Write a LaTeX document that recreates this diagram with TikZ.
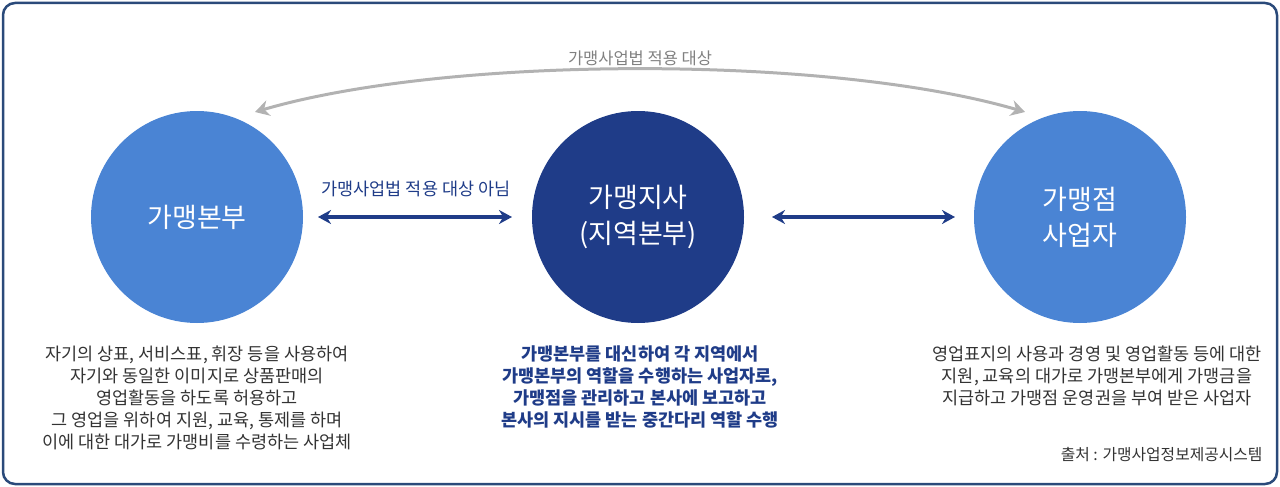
\documentclass[tikz,border=0pt]{standalone}
\usepackage{fontspec}
\setmainfont{Noto Sans CJK KR}
\usetikzlibrary{arrows.meta}
\definecolor{navy}{HTML}{1F3C88}
\definecolor{lblue}{HTML}{4A84D4}
\definecolor{frame}{HTML}{2A4A7A}
\definecolor{txt}{HTML}{333333}
\begin{document}
\begin{tikzpicture}[x=1pt,y=-1pt,
  circ/.style={circle,minimum size=212pt,inner sep=0pt,text=white,font=\fontsize{27}{36}\selectfont,align=center},
  desc/.style={align=center,font=\fontsize{17.5}{22}\selectfont,text=txt},
  dbl/.style={{Stealth[length=13pt,width=14pt]}-{Stealth[length=13pt,width=14pt]},line width=3.2pt,draw=navy}]
\useasboundingbox (0,0) rectangle (1280,487);
\draw[frame,line width=2.5pt,rounded corners=12pt] (3,3) rectangle (1277,484);
\node[circ,fill=lblue] (hq) at (197,217) {가맹본부};
\node[circ,fill=navy] (br) at (638,217) {가맹지사\\(지역본부)};
\node[circ,fill=lblue] (st) at (1080,217) {가맹점\\사업자};
\coordinate (al) at (255,112);
\coordinate (ar) at (1025,112);
\draw[{Stealth[length=14pt,width=16pt]}-{Stealth[length=14pt,width=16pt]},line width=3pt,draw=gray!60] (al) .. controls (450,55) and (830,55) .. (ar);
\node[text=gray,font=\fontsize{16.5}{20}\selectfont] (tl) at (640,58) {가맹사업법 적용 대상};
\coordinate (m1) at (318,217); \coordinate (m2) at (512,217);
\coordinate (n1) at (772,217); \coordinate (n2) at (955,217);
\draw[dbl] (m1) -- (m2);
\draw[dbl] (n1) -- (n2);
\node[text=navy,font=\fontsize{17.5}{20}\selectfont] (ml) at (416,189) {가맹사업법 적용 대상 아님};
\node[desc,anchor=north] (d1) at (197,342) {자기의 상표, 서비스표, 휘장 등을 사용하여\\자기와 동일한 이미지로 상품판매의\\영업활동을 하도록 허용하고\\그 영업을 위하여 지원, 교육, 통제를 하며\\이에 대한 대가로 가맹비를 수령하는 사업체};
\node[desc,anchor=north,text=navy,font=\fontsize{17.5}{22}\selectfont\bfseries] (d2) at (640,342) {가맹본부를 대신하여 각 지역에서\\가맹본부의 역할을 수행하는 사업자로,\\가맹점을 관리하고 본사에 보고하고\\본사의 지시를 받는 중간다리 역할 수행};
\node[desc,anchor=north] (d3) at (1097,342) {영업표지의 사용과 경영 및 영업활동 등에 대한\\지원, 교육의 대가로 가맹본부에게 가맹금을\\지급하고 가맹점 운영권을 부여 받은 사업자};
\node[font=\fontsize{15.8}{18}\selectfont,text=txt,anchor=east] (src) at (1266,455) {출처 : 가맹사업정보제공시스템};
\end{tikzpicture}
\end{document}
